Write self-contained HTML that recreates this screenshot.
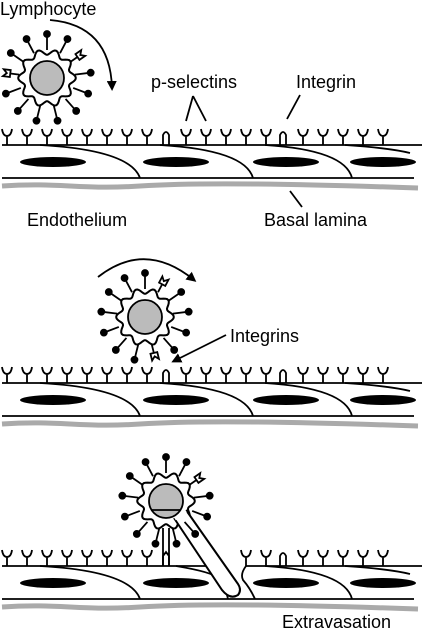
<!DOCTYPE html>
<html><head><meta charset="utf-8"><style>
html,body{margin:0;padding:0;background:#fff;}
svg{display:block;}
text{font-family:"Liberation Sans",Arial,sans-serif;font-size:18px;fill:#000;}
</style></head><body>
<svg id="fig" width="422" height="632" viewBox="0 0 422 632" xmlns="http://www.w3.org/2000/svg">
<defs><marker id="ah" markerWidth="10" markerHeight="10" refX="7" refY="5" orient="auto" markerUnits="userSpaceOnUse"><path d="M0,0 L10,5 L0,10 z" fill="#000"/></marker></defs>
<g id="g" fill="none" stroke="#000" stroke-width="1.8"></g>
<text x="0" y="15">Lymphocyte</text>
<text x="151" y="88">p-selectins</text>
<text x="296" y="88">Integrin</text>
<text x="27" y="226">Endothelium</text>
<text x="264" y="226">Basal lamina</text>
<text x="230" y="342">Integrins</text>
<text x="282" y="628">Extravasation</text>
</svg>
<script>
const NS="http://www.w3.org/2000/svg";
const g=document.getElementById('g');
function el(tag,attrs,name){const e=document.createElementNS(NS,tag);for(const k in attrs)e.setAttribute(k,attrs[k]);


g.appendChild(e);return e;}
const receptorX=[7,27,47,67,87,107,127,147,166,186,206,226,246,266,283,303,323,343,363,383];
const integrinX=[166,283];
const panelOffsets=[0,238,421];
const nucleiX=[53,176,286,383];
function receptor(x,top,isInt){
  if(isInt){el('path',{d:`M${x-3},${top} L${x-3},${top-10} Q${x},${top-16} ${x+3},${top-10} L${x+3},${top}`},'integrin');}
  else{el('path',{d:`M${x},${top} L${x},${top-9} M${x-5},${top-16} Q${x-4},${top-9} ${x},${top-9} Q${x+4},${top-9} ${x+5},${top-16}`},'p-selectin');}
}
function panel(o,pi){
  const T=145+o,B=178+o;
  if(pi<2){el('path',{d:`M2,${T} L422,${T}`},'endothelium-top');}
  else{el('path',{d:`M2,${T} L215,${T}`},'endothelium-top-left');el('path',{d:`M246,${T} L422,${T}`},'endothelium-top-right');}
  el('path',{d:`M2,${B} L414,${B}`},'endothelium-bottom');
  el('path',{d:`M2,${B+8} C60,${B+4} 80,${B+12} 140,${B+8} S300,${B+6} 418,${B+10}`,stroke:'#aaa','stroke-width':5},'basal-lamina');
  nucleiX.forEach(cx=>el('ellipse',{cx:cx,cy:162+o,rx:33,ry:5,fill:'#000',stroke:'none'},'nucleus'));
  el('path',{d:`M40,${T} Q130,${T+5} 140,${B}`},'cell-boundary');
  if(pi<2) el('path',{d:`M160,${T} Q245,${T+5} 253,${B}`},'cell-boundary');
  else el('path',{d:`M176,${T} Q212,${T+6} 218,${T+12} Q226,${T+22} 228,${B}`},'cell-boundary');
  if(pi==2) el('path',{d:`M246,${T} Q240,${T+8} 243,${T+14} Q250,${T+22} 255,${B}`},'cell-boundary');
  el('path',{d:`M265,${T} Q345,${T+5} 352,${B}`},'cell-boundary');
  el('path',{d:`M345,${T} Q390,${T+3} 410,${T+8}`},'cell-boundary');
  receptorX.forEach(x=>{
    if(pi==2 && x>170 && x<240) return;
    receptor(x,T,integrinX.includes(x));
  });
}
function membrane(cx,cy){
  let d='';for(let i=0;i<=120;i++){const a=i/120*Math.PI*2;const r=26+2.8*Math.cos(a*10);d+=(i?'L':'M')+(cx+r*Math.cos(a)).toFixed(1)+','+(cy+r*Math.sin(a)).toFixed(1);}
  el('path',{d:d+'Z',fill:'#fff','stroke-width':2},'lymphocyte-membrane');
}
function spikes(cx,cy,notches){
  for(let k=0;k<13;k++){const a=-Math.PI/2+k*2*Math.PI/13;
    const x1=cx+28*Math.cos(a),y1=cy+28*Math.sin(a),x2=cx+44*Math.cos(a),y2=cy+44*Math.sin(a);
    if(notches.includes(k)){const x3=cx+37*Math.cos(a),y3=cy+37*Math.sin(a);el('path',{d:`M${x1},${y1} L${x3},${y3}`},'lymphocyte-integrin');
      const px=-Math.sin(a)*3.5,py=Math.cos(a)*3.5;
      el('path',{d:`M${x3+px},${y3+py} L${x2+px},${y2+py} L${(x3+x2)/2},${(y3+y2)/2} L${x2-px},${y2-py} L${x3-px},${y3-py} Z`,fill:'#fff'},'lymphocyte-integrin-tip');continue;}
    el('path',{d:`M${x1},${y1} L${x2},${y2}`},'lymphocyte-receptor');
    el('circle',{cx:x2,cy:y2,r:3,fill:'#000'},'receptor-ligand-dot');}
}
function nucleus(cx,cy,flat){
  el('circle',{cx:cx,cy:cy,r:17,fill:'#bbb'},'lymphocyte-nucleus');
  if(flat) el('path',{d:`M${cx-15},${cy+9} L${cx+15},${cy+9}`},'nucleus-line');
}
panelOffsets.forEach((o,i)=>panel(o,i));
membrane(47,78);spikes(47,78,[2,10]);nucleus(47,78,false);
membrane(145,317);spikes(145,317,[1,6]);nucleus(145,317,false);
membrane(166,501);
el('path',{d:'M174,518 L222,590 Q230,600 238,595 Q242,590 238,584 L186,510',fill:'#fff','stroke-width':2},'pseudopod');
el('path',{d:'M175,519 L186,511',stroke:'#fff','stroke-width':3},'pseudopod-join');
spikes(166,501,[2]);nucleus(166,501,true);
el('path',{d:'M163,528 L163,566 M169,528 L169,566 M163,556 L166,552 L169,556'},'bound-integrin');
el('path',{d:'M50,20 Q110,25 112,88','marker-end':'url(#ah)'},'roll-arrow-1');
el('path',{d:'M98,277 Q145,240 194,280','marker-end':'url(#ah)'},'roll-arrow-2');
el('path',{d:'M226,335 L174,361','marker-end':'url(#ah)'},'integrins-pointer');
el('path',{d:'M193,96 L186,121 M193,96 L206,121'},'p-selectins-pointer');
el('path',{d:'M300,95 L287,119'},'integrin-pointer');
el('path',{d:'M290,191 L302,207'},'basal-lamina-pointer');
</script>
</body></html>
